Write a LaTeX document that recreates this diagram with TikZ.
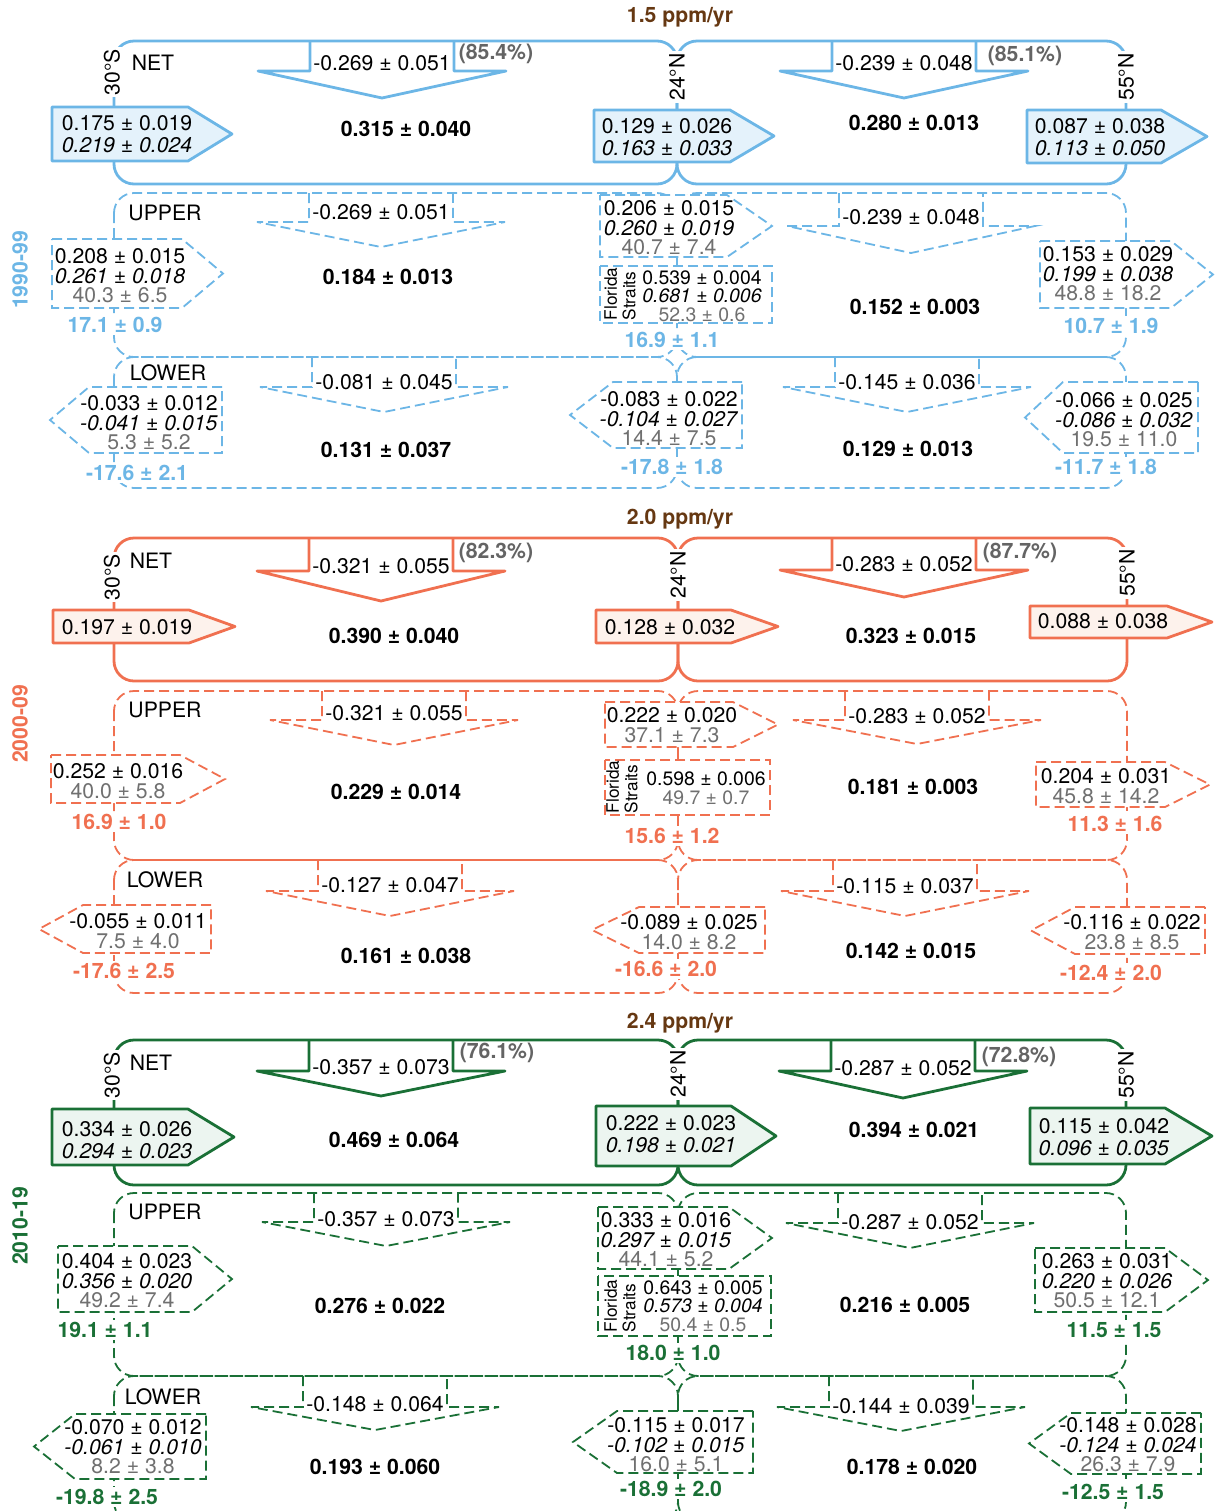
\documentclass[tikz,border=0pt]{standalone}
\usepackage{fontspec}
\setmainfont{TeX Gyre Heros}
\definecolor{cA}{RGB}{108,182,230}
\definecolor{fA}{RGB}{228,242,251}
\definecolor{cB}{RGB}{240,112,80}
\definecolor{fB}{RGB}{253,242,236}
\definecolor{cC}{RGB}{26,112,54}
\definecolor{fC}{RGB}{236,245,240}
\definecolor{brn}{RGB}{102,56,18}
\definecolor{gtx}{RGB}{112,112,112}
\definecolor{gpc}{RGB}{100,100,100}
\tikzset{
 sol/.style={line width=1.4pt, line join=round},
 dsh/.style={line width=0.9pt, dash pattern=on 5pt off 2.5pt},
 txt/.style={inner sep=0pt, font=\fontsize{10.6}{11.2}\selectfont, align=center},
 txtd/.style={inner sep=0pt, font=\fontsize{10.6}{10.2}\selectfont, align=center},
 txtt/.style={inner sep=0pt, font=\fontsize{10.6}{9.8}\selectfont, align=center},
 ftxt/.style={inner sep=0pt, font=\fontsize{9.7}{9.3}\selectfont, align=center},
 btxt/.style={inner sep=0pt, font=\fontsize{10.6}{11}\selectfont\bfseries, align=center},
 lat/.style={txt, rotate=90, fill=white, inner sep=1pt},
 ttl/.style={btxt, text=brn},
 pct/.style={btxt, text=gpc},
 clab/.style={btxt, text=#1, fill=white, inner sep=1pt},
 yr/.style={btxt, text=#1, rotate=90},
 fl/.style={inner sep=0pt, rotate=90, align=left, font=\fontsize{8.6}{9.2}\selectfont},
 rbox/.style={rounded corners=10pt},
}
\newcommand{\gv}[1]{\textcolor{gtx}{#1}}
\newcommand{\dnarrow}[5]{\draw[#1] ({#2-72},#3) -- ({#2-72},#4) -- ({#2-124},#4) -- (#2,#5) -- ({#2+124},#4) -- ({#2+72},#4) -- ({#2+72},#3);}
\newcommand{\pentR}[6]{\draw[#1] (#2,#3) -- (#4,#3) -- (#6,{(#3+#5)/2}) -- (#4,#5) -- (#2,#5) -- cycle;}
\newcommand{\pentL}[6]{\draw[#1] (#4,#3) -- (#2,#3) -- (#6,{(#3+#5)/2}) -- (#2,#5) -- (#4,#5) -- cycle;}
\newcommand{\rectbox}[5]{\draw[#1] (#2,#3) rectangle (#4,#5);}
\begin{document}
\begin{tikzpicture}[x=0.5pt,y=-0.5pt]
\useasboundingbox (0,0) rectangle (1218,1511);
\clip (0,0) rectangle (1218,1511);
% ================= Panel 1 : 1990-99 =================
\draw[sol,cA,rbox] (114,41) rectangle (677,184);
\draw[sol,cA,rbox] (677,41) rectangle (1126,184);
\draw[dsh,cA,rbox] (114,193) rectangle (677,357);
\draw[dsh,cA,rbox] (677,193) rectangle (1126,357);
\draw[dsh,cA,rbox] (114,357) rectangle (677,488);
\draw[dsh,cA,rbox] (677,357) rectangle (1126,488);
\dnarrow{sol,cA}{382}{41}{71}{98}
\dnarrow{sol,cA}{904}{41}{71}{98}
\dnarrow{dsh,cA}{381}{193}{222}{247}
\dnarrow{dsh,cA}{911}{193}{226}{253}
\dnarrow{dsh,cA}{384}{357}{387}{412}
\dnarrow{dsh,cA}{907}{357}{387}{412}
\pentR{sol,cA,fill=fA}{52}{107}{188}{161}{232}
\pentR{sol,cA,fill=fA}{594}{110}{730}{162}{774}
\pentR{sol,cA,fill=fA}{1027}{110}{1161}{163}{1207}
\pentR{dsh,cA,fill=white}{52}{239}{182}{308}{223}
\pentR{dsh,cA,fill=white}{600}{195}{727}{257}{772}
\rectbox{dsh,cA,fill=white}{600}{266}{772}{323}
\pentR{dsh,cA,fill=white}{1040}{241}{1171}{308}{1213}
\pentL{dsh,cA,fill=white}{89}{387}{222}{453}{50}
\pentL{dsh,cA,fill=white}{613}{382}{742}{448}{570}
\pentL{dsh,cA,fill=white}{1063}{382}{1198}{453}{1025}
\node[ttl] (t1) at (680,17) {1.5 ppm/yr};
\node[txt] (a1net) at (153,63) {NET};
\node[lat] (a1s) at (112,72) {30°S};
\node[lat] (a1e) at (677,77) {24°N};
\node[lat] (a1n) at (1126,77) {55°N};
\node[txt] (a1f1) at (382,63) {-0.269 ± 0.051};
\node[pct] (a1p1) at (496,54) {(85.4\%)};
\node[txt] (a1f2) at (904,63) {-0.239 ± 0.048};
\node[pct] (a1p2) at (1025,56) {(85.1\%)};
\node[txt] (a1b1) at (127,134) {0.175 ± 0.019\\\textit{0.219 ± 0.024}};
\node[btxt] (a1c1) at (406,129) {0.315 ± 0.040};
\node[txt] (a1b2) at (667,137) {0.129 ± 0.026\\\textit{0.163 ± 0.033}};
\node[btxt] (a1c2) at (914,123) {0.280 ± 0.013};
\node[txt] (a1b3) at (1100,137) {0.087 ± 0.038\\\textit{0.113 ± 0.050}};
\node[txt] (a1up) at (165,213) {UPPER};
\node[txt] (a1uf1) at (381,212) {-0.269 ± 0.051};
\node[txtt] (a1ub1) at (120,276) {0.208 ± 0.015\\\textit{0.261 ± 0.018}\\\gv{40.3 ± 6.5}};
\node[clab=cA] (a1ul1) at (115,325) {17.1 ± 0.9};
\node[btxt] (a1uc1) at (388,277) {0.184 ± 0.013};
\node[txtt] (a1ub2) at (669,228) {0.206 ± 0.015\\\textit{0.260 ± 0.019}\\\gv{40.7 ± 7.4}};
\node[fl] (a1fl) at (620,294) {Florida\\Straits};
\node[ftxt] (a1ub3) at (702,296) {0.539 ± 0.004\\\textit{0.681 ± 0.006}\\\gv{52.3 ± 0.6}};
\node[clab=cA] (a1ul2) at (672,340) {16.9 ± 1.1};
\node[txt] (a1uf2) at (911,217) {-0.239 ± 0.048};
\node[btxt] (a1uc2) at (915,307) {0.152 ± 0.003};
\node[txtt] (a1ub4) at (1108,274) {0.153 ± 0.029\\\textit{0.199 ± 0.038}\\\gv{48.8 ± 18.2}};
\node[clab=cA] (a1ul3) at (1111,326) {10.7 ± 1.9};
\node[txt] (a1lo) at (168,373) {LOWER};
\node[txt] (a1lf1) at (384,382) {-0.081 ± 0.045};
\node[txtt] (a1lb1) at (149,423) {-0.033 ± 0.012\\\textit{-0.041 ± 0.015}\\\gv{5.3 ± 5.2}};
\node[clab=cA] (a1ll1) at (137,473) {-17.6 ± 2.1};
\node[btxt] (a1lc1) at (386,450) {0.131 ± 0.037};
\node[txtt] (a1lb2) at (669,419) {-0.083 ± 0.022\\\textit{-0.104 ± 0.027}\\\gv{14.4 ± 7.5}};
\node[clab=cA] (a1ll2) at (672,467) {-17.8 ± 1.8};
\node[txt] (a1lf2) at (907,382) {-0.145 ± 0.036};
\node[btxt] (a1lc2) at (908,449) {0.129 ± 0.013};
\node[txtt] (a1lb3) at (1124,420) {-0.066 ± 0.025\\\textit{-0.086 ± 0.032}\\\gv{19.5 ± 11.0}};
\node[clab=cA] (a1ll3) at (1106,467) {-11.7 ± 1.8};
\node[yr=cA] (a1yr) at (20,270) {1990-99};
% ================= Panel 2 : 2000-09 =================
\draw[sol,cB,rbox] (114,538) rectangle (678,681);
\draw[sol,cB,rbox] (678,538) rectangle (1127,681);
\draw[dsh,cB,rbox] (114,691) rectangle (678,860);
\draw[dsh,cB,rbox] (678,691) rectangle (1127,860);
\draw[dsh,cB,rbox] (114,860) rectangle (678,993);
\draw[dsh,cB,rbox] (678,860) rectangle (1127,993);
\dnarrow{sol,cB}{381}{538}{571}{601}
\dnarrow{sol,cB}{904}{538}{570}{597}
\dnarrow{dsh,cB}{394}{691}{720}{745}
\dnarrow{dsh,cB}{917}{691}{720}{744}
\dnarrow{dsh,cB}{390}{860}{891}{916}
\dnarrow{dsh,cB}{905}{860}{891}{916}
\pentR{sol,cB,fill=fB}{53}{610}{189}{643}{235}
\pentR{sol,cB,fill=fB}{596}{610}{731}{643}{778}
\pentR{sol,cB,fill=fB}{1030}{606}{1167}{638}{1212}
\pentR{dsh,cB,fill=white}{51}{755}{180}{803}{225}
\pentR{dsh,cB,fill=white}{605}{702}{733}{747}{778}
\rectbox{dsh,cB,fill=white}{605}{760}{770}{815}
\pentR{dsh,cB,fill=white}{1036}{762}{1165}{807}{1210}
\pentL{dsh,cB,fill=white}{83}{905}{211}{953}{39}
\pentL{dsh,cB,fill=white}{639}{907}{765}{953}{592}
\pentL{dsh,cB,fill=white}{1075}{907}{1205}{954}{1031}
\node[ttl] (t2) at (680,519) {2.0 ppm/yr};
\node[txt] (a2net) at (151,561) {NET};
\node[lat] (a2s) at (112,577) {30°S};
\node[lat] (a2e) at (678,575) {24°N};
\node[lat] (a2n) at (1127,573) {55°N};
\node[txt] (a2f1) at (381,566) {-0.321 ± 0.055};
\node[pct] (a2p1) at (496,553) {(82.3\%)};
\node[txt] (a2f2) at (904,564) {-0.283 ± 0.052};
\node[pct] (a2p2) at (1020,553) {(87.7\%)};
\node[txt] (a2b1) at (127,627) {0.197 ± 0.019};
\node[btxt] (a2c1) at (394,636) {0.390 ± 0.040};
\node[txt] (a2b2) at (670,627) {0.128 ± 0.032};
\node[btxt] (a2c2) at (911,636) {0.323 ± 0.015};
\node[txt] (a2b3) at (1103,621) {0.088 ± 0.038};
\node[txt] (a2up) at (165,710) {UPPER};
\node[txt] (a2uf1) at (394,713) {-0.321 ± 0.055};
\node[txtd] (a2ub1) at (118,781) {0.252 ± 0.016\\\gv{40.0 ± 5.8}};
\node[clab=cB] (a2ul1) at (119,822) {16.9 ± 1.0};
\node[btxt] (a2uc1) at (396,792) {0.229 ± 0.014};
\node[txtd] (a2ub2) at (672,725) {0.222 ± 0.020\\\gv{37.1 ± 7.3}};
\node[fl] (a2fl) at (622,787) {Florida\\Straits};
\node[ftxt] (a2ub3) at (706,788) {0.598 ± 0.006\\\gv{49.7 ± 0.7}};
\node[clab=cB] (a2ul2) at (672,836) {15.6 ± 1.2};
\node[txt] (a2uf2) at (917,716) {-0.283 ± 0.052};
\node[btxt] (a2uc2) at (913,787) {0.181 ± 0.003};
\node[txtd] (a2ub4) at (1106,786) {0.204 ± 0.031\\\gv{45.8 ± 14.2}};
\node[clab=cB] (a2ul3) at (1115,824) {11.3 ± 1.6};
\node[txt] (a2lo) at (165,880) {LOWER};
\node[txt] (a2lf1) at (390,885) {-0.127 ± 0.047};
\node[txtd] (a2lb1) at (138,931) {-0.055 ± 0.011\\\gv{7.5 ± 4.0}};
\node[clab=cB] (a2ll1) at (124,971) {-17.6 ± 2.5};
\node[btxt] (a2lc1) at (406,956) {0.161 ± 0.038};
\node[txtd] (a2lb2) at (689,932) {-0.089 ± 0.025\\\gv{14.0 ± 8.2}};
\node[clab=cB] (a2ll2) at (666,969) {-16.6 ± 2.0};
\node[txt] (a2lf2) at (905,886) {-0.115 ± 0.037};
\node[btxt] (a2lc2) at (911,951) {0.142 ± 0.015};
\node[txtd] (a2lb3) at (1132,932) {-0.116 ± 0.022\\\gv{23.8 ± 8.5}};
\node[clab=cB] (a2ll3) at (1111,973) {-12.4 ± 2.0};
\node[yr=cB] (a2yr) at (20,724) {2000-09};
% ================= Panel 3 : 2010-19 =================
\draw[sol,cC,rbox] (114,1040) rectangle (678,1185);
\draw[sol,cC,rbox] (678,1040) rectangle (1126,1185);
\draw[dsh,cC,rbox] (114,1193) rectangle (678,1376);
\draw[dsh,cC,rbox] (678,1193) rectangle (1126,1376);
\draw[dsh,cC,rbox] (114,1376) rectangle (678,1522);
\draw[dsh,cC,rbox] (678,1376) rectangle (1126,1522);
\dnarrow{sol,cC}{381}{1040}{1071}{1096}
\dnarrow{sol,cC}{903}{1040}{1071}{1098}
\dnarrow{dsh,cC}{386}{1193}{1222}{1246}
\dnarrow{dsh,cC}{910}{1193}{1223}{1248}
\dnarrow{dsh,cC}{375}{1376}{1407}{1430}
\dnarrow{dsh,cC}{901}{1376}{1407}{1431}
\pentR{sol,cC,fill=fC}{52}{1109}{188}{1165}{234}
\pentR{sol,cC,fill=fC}{596}{1106}{731}{1166}{776}
\pentR{sol,cC,fill=fC}{1030}{1108}{1165}{1164}{1212}
\pentR{dsh,cC,fill=white}{58}{1246}{192}{1312}{232}
\pentR{dsh,cC,fill=white}{598}{1207}{729}{1269}{772}
\rectbox{dsh,cC,fill=white}{598}{1276}{771}{1336}
\pentR{dsh,cC,fill=white}{1035}{1248}{1165}{1312}{1208}
\pentL{dsh,cC,fill=white}{75}{1414}{206}{1479}{34}
\pentL{dsh,cC,fill=white}{617}{1411}{753}{1473}{573}
\pentL{dsh,cC,fill=white}{1071}{1413}{1201}{1474}{1029}
\node[ttl] (t3) at (680,1023) {2.4 ppm/yr};
\node[txt] (a3net) at (151,1063) {NET};
\node[lat] (a3s) at (112,1075) {30°S};
\node[lat] (a3e) at (678,1074) {24°N};
\node[lat] (a3n) at (1126,1075) {55°N};
\node[txt] (a3f1) at (381,1067) {-0.357 ± 0.073};
\node[pct] (a3p1) at (497,1053) {(76.1\%)};
\node[txt] (a3f2) at (903,1068) {-0.287 ± 0.052};
\node[pct] (a3p2) at (1019,1057) {(72.8\%)};
\node[txt] (a3b1) at (127,1140) {0.334 ± 0.026\\\textit{0.294 ± 0.023}};
\node[btxt] (a3c1) at (394,1140) {0.469 ± 0.064};
\node[txt] (a3b2) at (671,1134) {0.222 ± 0.023\\\textit{0.198 ± 0.021}};
\node[btxt] (a3c2) at (914,1130) {0.394 ± 0.021};
\node[txt] (a3b3) at (1104,1137) {0.115 ± 0.042\\\textit{0.096 ± 0.035}};
\node[txt] (a3up) at (165,1212) {UPPER};
\node[txt] (a3uf1) at (386,1219) {-0.357 ± 0.073};
\node[txtt] (a3ub1) at (127,1281) {0.404 ± 0.023\\\textit{0.356 ± 0.020}\\\gv{49.2 ± 7.4}};
\node[clab=cC] (a3ul1) at (105,1330) {19.1 ± 1.1};
\node[btxt] (a3uc1) at (380,1306) {0.276 ± 0.022};
\node[txtt] (a3ub2) at (666,1240) {0.333 ± 0.016\\\textit{0.297 ± 0.015}\\\gv{44.1 ± 5.2}};
\node[fl] (a3fl) at (620,1306) {Florida\\Straits};
\node[ftxt] (a3ub3) at (703,1306) {0.643 ± 0.005\\\textit{0.573 ± 0.004}\\\gv{50.4 ± 0.5}};
\node[clab=cC] (a3ul2) at (673,1353) {18.0 ± 1.0};
\node[txt] (a3uf2) at (910,1222) {-0.287 ± 0.052};
\node[btxt] (a3uc2) at (905,1305) {0.216 ± 0.005};
\node[txtt] (a3ub4) at (1107,1281) {0.263 ± 0.031\\\textit{0.220 ± 0.026}\\\gv{50.5 ± 12.1}};
\node[clab=cC] (a3ul3) at (1114,1330) {11.5 ± 1.5};
\node[txt] (a3lo) at (163,1397) {LOWER};
\node[txt] (a3lf1) at (375,1404) {-0.148 ± 0.064};
\node[txtt] (a3lb1) at (133,1447) {-0.070 ± 0.012\\\textit{-0.061 ± 0.010}\\\gv{8.2 ± 3.8}};
\node[clab=cC] (a3ll1) at (107,1497) {-19.8 ± 2.5};
\node[btxt] (a3lc1) at (375,1467) {0.193 ± 0.060};
\node[txtt] (a3lb2) at (676,1445) {-0.115 ± 0.017\\\textit{-0.102 ± 0.015}\\\gv{16.0 ± 5.1}};
\node[clab=cC] (a3ll2) at (671,1489) {-18.9 ± 2.0};
\node[txt] (a3lf2) at (901,1406) {-0.144 ± 0.039};
\node[btxt] (a3lc2) at (912,1467) {0.178 ± 0.020};
\node[txtt] (a3lb3) at (1128,1445) {-0.148 ± 0.028\\\textit{-0.124 ± 0.024}\\\gv{26.3 ± 7.9}};
\node[clab=cC] (a3ll3) at (1113,1492) {-12.5 ± 1.5};
\node[yr=cC] (a3yr) at (20,1226) {2010-19};
\end{tikzpicture}
\end{document}
